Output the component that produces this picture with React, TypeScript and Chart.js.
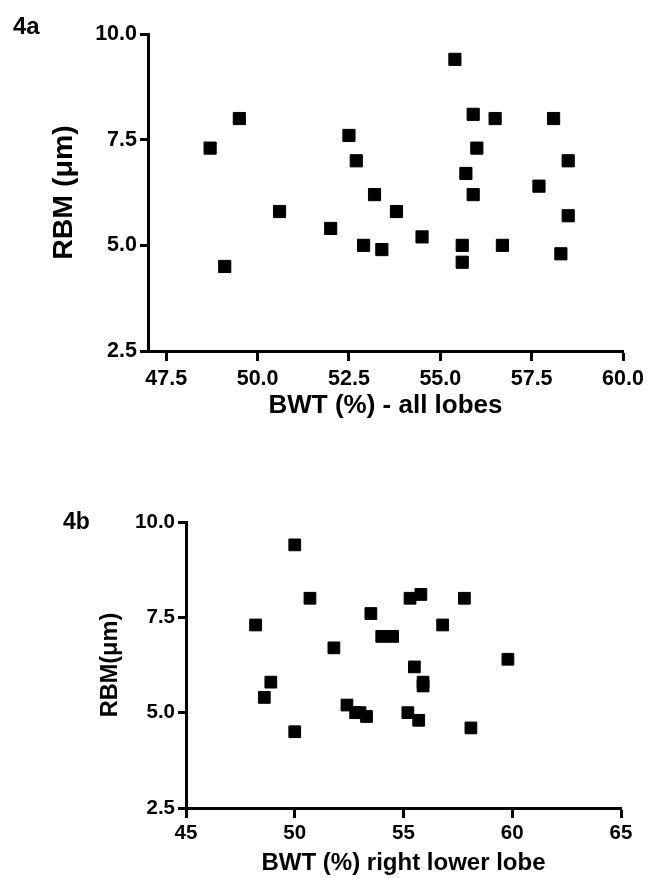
import React, { useEffect, useRef } from "react";
import { Chart, registerables } from "chart.js";

Chart.register(...registerables);

// Panel 4a: BWT (%) all lobes vs RBM (µm)
const topX = [48.7, 49.5, 49.1, 50.6, 52.0, 52.5, 52.7, 53.2, 52.9, 53.4, 53.8, 54.5, 55.4, 55.9, 56.5, 58.1, 56.0, 58.5, 55.7, 55.9, 57.7, 58.5, 55.6, 55.6, 56.7, 58.3];
const topY = [7.3, 8.0, 4.5, 5.8, 5.4, 7.6, 7.0, 6.2, 5.0, 4.9, 5.8, 5.2, 9.4, 8.1, 8.0, 8.0, 7.3, 7.0, 6.7, 6.2, 6.4, 5.7, 5.0, 4.6, 5.0, 4.8];

// Panel 4b: BWT (%) right lower lobe vs RBM (µm)
const botX = [50.0, 50.7, 48.2, 53.5, 54.0, 54.5, 51.8, 55.3, 55.8, 57.8, 56.8, 59.8, 55.5, 55.9, 55.9, 55.2, 55.7, 58.1, 48.9, 48.6, 50.0, 52.4, 52.8, 53.0, 53.3];
const botY = [9.4, 8.0, 7.3, 7.6, 7.0, 7.0, 6.7, 8.0, 8.1, 8.0, 7.3, 6.4, 6.2, 5.8, 5.7, 5.0, 4.8, 4.6, 5.8, 5.4, 4.5, 5.2, 5.0, 5.0, 4.9];

const topXTicks = [47.5, 50.0, 52.5, 55.0, 57.5, 60.0];
const botXTicks = [45, 50, 55, 60, 65];
const yTicks = [2.5, 5.0, 7.5, 10.0];

const FONT = "'Liberation Sans', Arial, Helvetica, sans-serif";

interface PanelCfg {
  xs: number[];
  ys: number[];
  xMin: number;
  xMax: number;
  xTicks: number[];
  xDecimals: number;
  xTitle: string;
  yTitle: string;
  height: number;
  padTop: number;
  padRight: number;
  yAxisWidth: number;
  xAxisHeight: number;
  tickFont: number;
  xTitleFont: number;
  yTitleFont: number;
  xTitlePadBottom: number;
  yTitlePadTop: number;
  xTickPad: number;
  pointRadius: number;
}

function Panel({ cfg }: { cfg: PanelCfg }) {
  const ref = useRef<HTMLCanvasElement | null>(null);
  useEffect(() => {
    if (!ref.current) return;
    const data = cfg.xs.map((x, i) => ({ x, y: cfg.ys[i] }));
    const chart = new Chart(ref.current, {
      type: "scatter",
      data: {
        datasets: [
          {
            data,
            pointStyle: "rect",
            pointRadius: cfg.pointRadius,
            pointHoverRadius: cfg.pointRadius,
            backgroundColor: "#000",
            borderColor: "#000",
            borderWidth: 1,
          },
        ],
      },
      options: {
        responsive: false,
        maintainAspectRatio: false,
        animation: false,
        events: [],
        layout: { padding: { top: cfg.padTop, right: cfg.padRight, left: 0, bottom: 0 } },
        plugins: { legend: { display: false }, tooltip: { enabled: false } },
        scales: {
          x: {
            type: "linear",
            min: cfg.xMin,
            max: cfg.xMax,
            afterBuildTicks: (s: any) => {
              s.ticks = cfg.xTicks.map((v) => ({ value: v }));
            },
            afterFit: (s: any) => {
              s.height = cfg.xAxisHeight;
            },
            border: { display: true, color: "#000", width: 3 },
            grid: {
              display: true,
              drawOnChartArea: false,
              drawTicks: true,
              tickLength: 10,
              tickWidth: 3,
              tickColor: "#000",
            },
            ticks: {
              autoSkip: false,
              maxRotation: 0,
              padding: cfg.xTickPad,
              color: "#000",
              font: { family: FONT, size: cfg.tickFont, weight: "bold" },
              callback: (v: any) => Number(v).toFixed(cfg.xDecimals),
            },
            title: {
              display: true,
              text: cfg.xTitle,
              color: "#000",
              font: { family: FONT, size: cfg.xTitleFont, weight: "bold" },
              padding: { top: 0, bottom: cfg.xTitlePadBottom },
            },
          },
          y: {
            type: "linear",
            min: 2.5,
            max: 10,
            afterBuildTicks: (s: any) => {
              s.ticks = yTicks.map((v) => ({ value: v }));
            },
            afterFit: (s: any) => {
              s.width = cfg.yAxisWidth;
            },
            border: { display: true, color: "#000", width: 3 },
            grid: {
              display: true,
              drawOnChartArea: false,
              drawTicks: true,
              tickLength: 8,
              tickWidth: 3,
              tickColor: "#000",
            },
            ticks: {
              autoSkip: false,
              padding: 3,
              color: "#000",
              font: { family: FONT, size: cfg.tickFont, weight: "bold" },
              callback: (v: any) => Number(v).toFixed(1),
            },
            title: {
              display: true,
              text: cfg.yTitle,
              color: "#000",
              font: { family: FONT, size: cfg.yTitleFont, weight: "bold" },
              padding: { top: cfg.yTitlePadTop, bottom: 0 },
            },
          },
        },
      },
    } as any);
    return () => chart.destroy();
  }, [cfg]);
  return <canvas ref={ref} width={649} height={cfg.height} style={{ display: "block", width: 649, height: cfg.height }} />;
}

const topCfg: PanelCfg = {
  xs: topX,
  ys: topY,
  xMin: 47.0,
  xMax: 60.0,
  xTicks: topXTicks,
  xDecimals: 1,
  xTitle: "BWT (%) - all lobes",
  yTitle: "RBM (\u03bcm)",
  height: 440,
  padTop: 34,
  padRight: 26,
  yAxisWidth: 148,
  xAxisHeight: 89,
  tickFont: 21.5,
  xTitleFont: 26,
  yTitleFont: 28.5,
  xTitlePadBottom: 19,
  yTitlePadTop: 47,
  xTickPad: 5,
  pointRadius: 8.6,
};

const botCfg: PanelCfg = {
  xs: botX,
  ys: botY,
  xMin: 45,
  xMax: 65,
  xTicks: botXTicks,
  xDecimals: 0,
  xTitle: "BWT (%) right lower lobe",
  yTitle: "RBM(\u03bcm)",
  height: 438,
  padTop: 82,
  padRight: 28,
  yAxisWidth: 186,
  xAxisHeight: 70,
  tickFont: 20.5,
  xTitleFont: 24,
  yTitleFont: 23.5,
  xTitlePadBottom: 0,
  yTitlePadTop: 96,
  xTickPad: 3,
  pointRadius: 8.3,
};

export default function App() {
  const labelStyle: React.CSSProperties = {
    position: "absolute",
    fontFamily: FONT,
    fontWeight: "bold",
    color: "#000",
  };
  return (
    <div style={{ position: "absolute", left: 0, top: 0, width: 649, height: 878, background: "#fff", overflow: "hidden" }}>
      <div style={{ position: "absolute", left: 0, top: 0 }}>
        <Panel cfg={topCfg} />
      </div>
      <div style={{ position: "absolute", left: 0, top: 440 }}>
        <Panel cfg={botCfg} />
      </div>
      <div style={{ ...labelStyle, fontSize: 24, lineHeight: "24px", left: 13, top: 14 }}>4a</div>
      <div style={{ ...labelStyle, fontSize: 23, lineHeight: "23px", left: 63, top: 510 }}>4b</div>
    </div>
  );
}
